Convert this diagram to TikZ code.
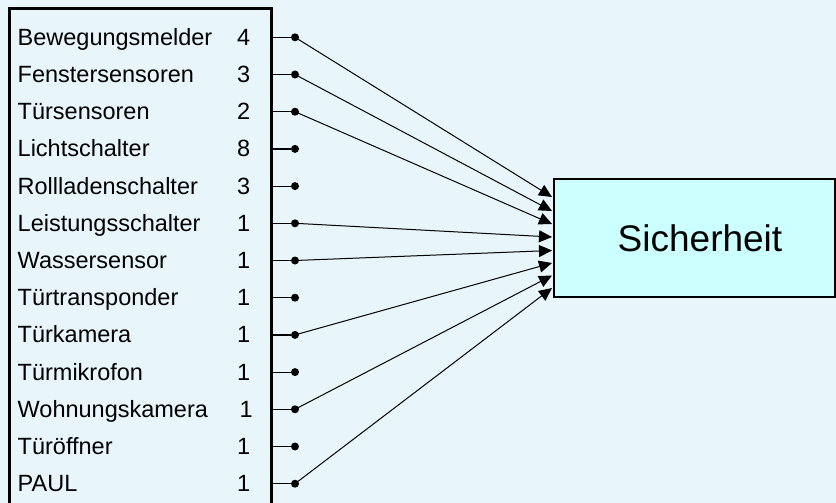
\documentclass[tikz,border=0pt]{standalone}
\usepackage{fontspec}
\setmainfont{Liberation Sans}
\usetikzlibrary{arrows.meta}
\definecolor{hintergrund}{RGB}{232,246,251}
\definecolor{kasten}{RGB}{204,255,255}
\begin{document}
\begin{tikzpicture}[x=1pt,y=-1pt,
    eintrag/.style={anchor=base west,inner sep=0pt,font=\fontsize{23.5}{28}\selectfont},
    punkt/.style={circle,fill=black,inner sep=0pt,minimum size=8pt},
  ]
  \fill[hintergrund] (0,0) rectangle (836,503);
  \useasboundingbox (0,0) rectangle (836,503);
  \node[draw,line width=2.8pt,anchor=north west,inner sep=0pt,
    minimum width=262pt,minimum height=530pt] (liste) at (8,7) {};
  \node[draw,fill=kasten,line width=1.8pt,anchor=north west,inner sep=0pt,
    minimum width=281pt,minimum height=118pt] (sich) at (553,178) {};
  \node[font=\fontsize{37}{44}\selectfont,inner sep=0pt] (titel) at (700,238) {Sicherheit};
  \begin{scope}[every node/.style=eintrag]
    \draw
      (17.5,45.3) node (t1){Bewegungsmelder}
      (17.5,82.5) node (t2){Fenstersensoren}
      (17.5,119.7) node (t3){Türsensoren}
      (17.5,156.9) node (t4){Lichtschalter}
      (17.5,194.1) node (t5){Rollladenschalter}
      (17.5,231.3) node (t6){Leistungsschalter}
      (17.5,268.5) node (t7){Wassersensor}
      (17.5,305.7) node (t8){Türtransponder}
      (17.5,342.9) node (t9){Türkamera}
      (17.5,380.1) node (t10){Türmikrofon}
      (17.5,417.3) node (t11){Wohnungskamera}
      (17.5,454.5) node (t12){Türöffner}
      (17.5,491.7) node (t13){PAUL};
    \draw
      (237,45.3) node (n1){4}
      (237,82.5) node (n2){3}
      (237,119.7) node (n3){2}
      (237,156.9) node (n4){8}
      (237,194.1) node (n5){3}
      (237,231.3) node (n6){1}
      (237,268.5) node (n7){1}
      (237,305.7) node (n8){1}
      (237,342.9) node (n9){1}
      (237,380.1) node (n10){1}
      (239.5,417.3) node (n11){1}
      (237,454.5) node (n12){1}
      (237,491.7) node (n13){1};
  \end{scope}
  \draw
    (295,37.3) node[punkt] (d1){}
    (295,74.5) node[punkt] (d2){}
    (295,111.7) node[punkt] (d3){}
    (295,148.9) node[punkt] (d4){}
    (295,186.1) node[punkt] (d5){}
    (295,223.3) node[punkt] (d6){}
    (295,260.5) node[punkt] (d7){}
    (295,297.7) node[punkt] (d8){}
    (295,334.9) node[punkt] (d9){}
    (295,372.1) node[punkt] (d10){}
    (295,409.3) node[punkt] (d11){}
    (295,446.5) node[punkt] (d12){}
    (295,483.7) node[punkt] (d13){};
  \coordinate (z1) at (552,197);
  \coordinate (z2) at (552,211);
  \coordinate (z3) at (552,224);
  \coordinate (z4) at (552,237);
  \coordinate (z5) at (552,250.5);
  \coordinate (z6) at (552,263);
  \coordinate (z7) at (552,275.5);
  \coordinate (z8) at (552,288);
  \begin{scope}[-,line width=1.2pt]
    \draw (liste.east |- d1) to (d1);
    \draw (liste.east |- d2) to (d2);
    \draw (liste.east |- d3) to (d3);
    \draw (liste.east |- d4) to (d4);
    \draw (liste.east |- d5) to (d5);
    \draw (liste.east |- d6) to (d6);
    \draw (liste.east |- d7) to (d7);
    \draw (liste.east |- d8) to (d8);
    \draw (liste.east |- d9) to (d9);
    \draw (liste.east |- d10) to (d10);
    \draw (liste.east |- d11) to (d11);
    \draw (liste.east |- d12) to (d12);
    \draw (liste.east |- d13) to (d13);
  \end{scope}
  \begin{scope}[-{Triangle[length=13pt,width=12pt]},line width=1pt]
    \draw (d1.center) to (z1);
    \draw (d2.center) to (z2);
    \draw (d3.center) to (z3);
    \draw (d6.center) to (z4);
    \draw (d7.center) to (z5);
    \draw (d9.center) to (z6);
    \draw (d11.center) to (z7);
    \draw (d13.center) to (z8);
  \end{scope}
\end{tikzpicture}
\end{document}
